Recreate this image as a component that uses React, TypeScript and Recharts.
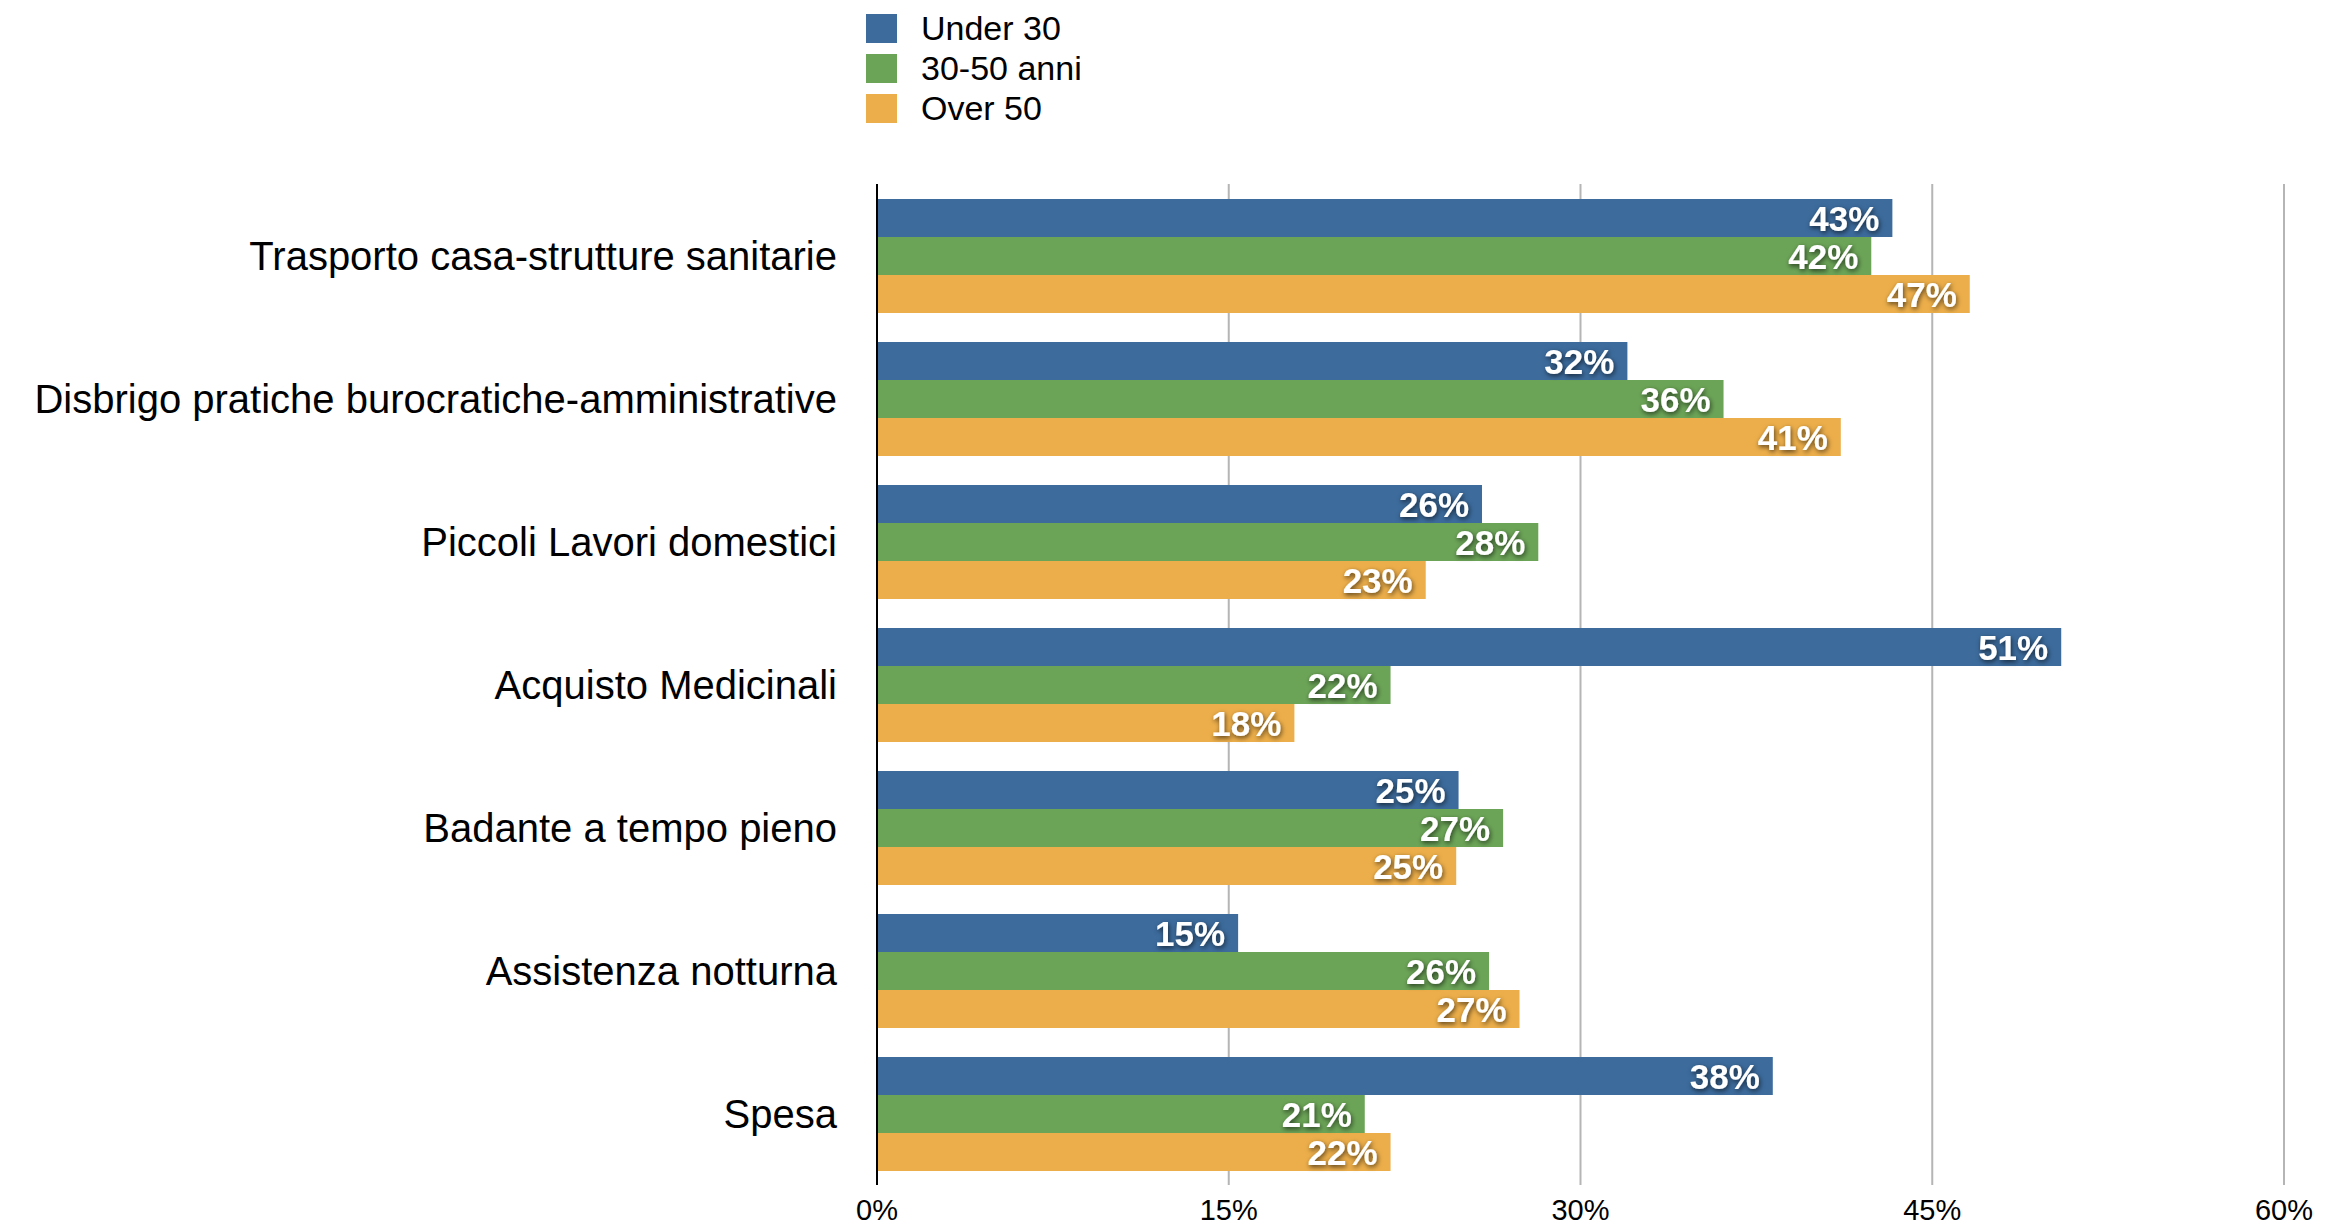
import React from 'react';
import { BarChart, Bar, XAxis, YAxis, CartesianGrid, Legend, LabelList } from 'recharts';

// categories (top to bottom)
const categories = [
  'Trasporto casa-strutture sanitarie',
  'Disbrigo pratiche burocratiche-amministrative',
  'Piccoli Lavori domestici',
  'Acquisto Medicinali',
  'Badante a tempo pieno',
  'Assistenza notturna',
  'Spesa',
];

// values in %
const under30 = [43.3, 32.0, 25.8, 50.5, 24.8, 15.4, 38.2];
const from30to50 = [42.4, 36.1, 28.2, 21.9, 26.7, 26.1, 20.8];
const over50 = [46.6, 41.1, 23.4, 17.8, 24.7, 27.4, 21.9];

const xTicks = [0, 15, 30, 45, 60];

const series = [
  { key: 'under30', name: 'Under 30', color: '#3c6b9c' },
  { key: 'mid', name: '30-50 anni', color: '#6ba457' },
  { key: 'over50', name: 'Over 50', color: '#ecae4a' },
];

const FONT = '"Liberation Sans", Arial, Helvetica, sans-serif';

const data = categories.map((name, i) => ({
  name,
  under30: under30[i],
  mid: from30to50[i],
  over50: over50[i],
}));

function ValueLabel(props: any) {
  const { x, y, width, height, value } = props;
  return (
    <text
      x={x + width - 13}
      y={y + height / 2}
      textAnchor="end"
      dominantBaseline="central"
      fill="#fff"
      fontSize={35}
      fontWeight="bold"
      fontFamily={FONT}
      filter="url(#lblShadow)"
    >
      {Math.round(value)}%
    </text>
  );
}

function LegendBox() {
  return (
    <div style={{ fontFamily: FONT }}>
      {series.map((s) => (
        <div key={s.key} style={{ display: 'flex', alignItems: 'center', height: 40 }}>
          <span style={{ display: 'inline-block', width: 31, height: 29, background: s.color, marginRight: 24 }} />
          <span style={{ fontSize: 34, color: '#000', lineHeight: '40px' }}>{s.name}</span>
        </div>
      ))}
    </div>
  );
}

export default function App() {
  return (
    <div style={{ position: 'absolute', left: 0, top: 0, width: 2340, height: 1229, background: '#fff' }}>
      <BarChart
        width={2340}
        height={1229}
        data={data}
        layout="vertical"
        margin={{ top: 184, right: 56, bottom: 0, left: 0 }}
        barCategoryGap={15}
        barGap={0}
      >
        <defs>
          <filter id="lblShadow" x="-20%" y="-30%" width="140%" height="170%">
            <feDropShadow dx="1" dy="2" stdDeviation="2.5" floodColor="#000" floodOpacity="0.65" />
          </filter>
        </defs>
        <CartesianGrid horizontal={false} stroke="#b5b5b5" strokeWidth={2} />
        <XAxis
          type="number"
          domain={[0, 60]}
          ticks={xTicks}
          tickFormatter={(v) => `${v}%`}
          axisLine={false}
          tickLine={false}
          tickSize={0}
          tickMargin={14}
          height={44}
          tick={{ fontSize: 29, fill: '#000', fontFamily: FONT }}
        />
        <YAxis
          type="category"
          dataKey="name"
          width={877}
          axisLine={{ stroke: '#000', strokeWidth: 2 }}
          tickLine={false}
          tickSize={0}
          tickMargin={40}
          tick={{ fontSize: 40, fill: '#000', fontFamily: FONT }}
        />
        <Legend
          layout="vertical"
          align="center"
          verticalAlign="middle"
          content={() => <LegendBox />}
          wrapperStyle={{ top: 8, left: 866, width: 400, height: 125 }}
        />
        {series.map((s) => (
          <Bar key={s.key} dataKey={s.key} name={s.name} fill={s.color} isAnimationActive={false}>
            <LabelList dataKey={s.key} content={ValueLabel} />
          </Bar>
        ))}
      </BarChart>
    </div>
  );
}
